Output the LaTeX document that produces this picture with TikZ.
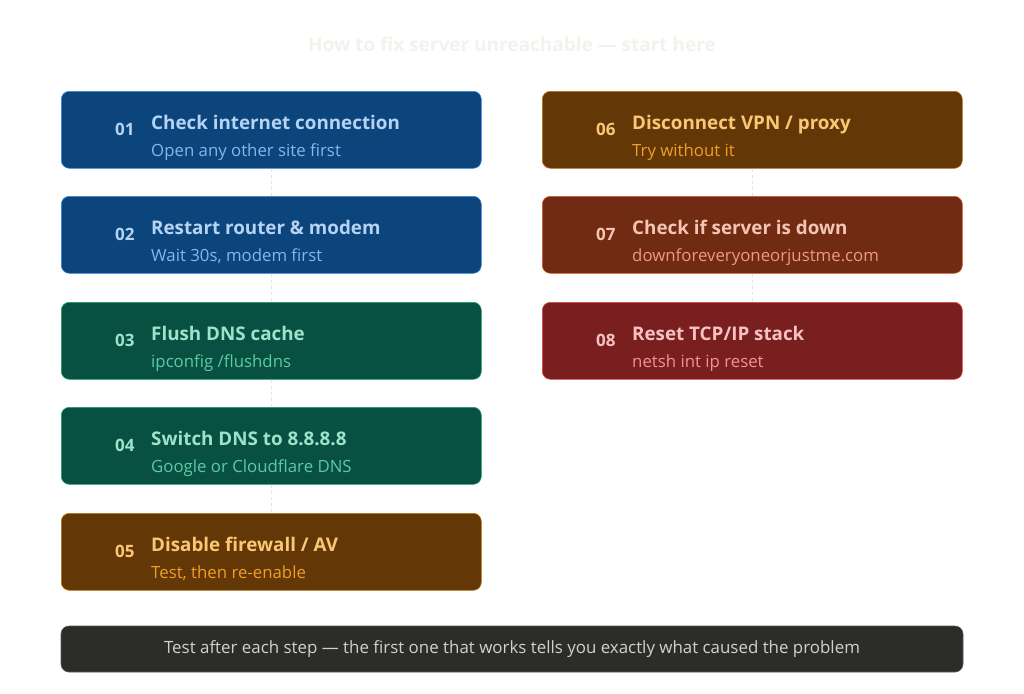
\documentclass[tikz,border=0pt]{standalone}
\usepackage{fontspec}
\setmainfont{Open Sans}

% palettes
\definecolor{bluefill}{HTML}{0C447C}
\definecolor{blueline}{HTML}{378ADD}
\definecolor{bluetext}{HTML}{B5D4F4}
\definecolor{bluesub}{HTML}{85B7EB}
\definecolor{greenfill}{HTML}{085041}
\definecolor{greenline}{HTML}{1D9E75}
\definecolor{greentext}{HTML}{9FE1CB}
\definecolor{greensub}{HTML}{5DCAA5}
\definecolor{amberfill}{HTML}{633806}
\definecolor{amberline}{HTML}{BA7517}
\definecolor{ambertext}{HTML}{FAC775}
\definecolor{ambersub}{HTML}{EF9F27}
\definecolor{rustfill}{HTML}{712B13}
\definecolor{rustline}{HTML}{D85A30}
\definecolor{rusttext}{HTML}{F5C4B3}
\definecolor{rustsub}{HTML}{F0997B}
\definecolor{redfill}{HTML}{791F1F}
\definecolor{redline}{HTML}{E24B4A}
\definecolor{redtext}{HTML}{F7C1C1}
\definecolor{redsub}{HTML}{F09595}
\definecolor{notefill}{HTML}{2C2C2A}
\definecolor{notetext}{HTML}{D3D1C7}
\definecolor{titlegray}{HTML}{F3F2EC}
\definecolor{linkgray}{HTML}{E6E5E0}

\tikzset{
  card/.style={draw=#1line, fill=#1fill, rounded corners=8pt, line width=0.6pt,
    minimum width=420pt, minimum height=77pt, anchor=north west, inner sep=0pt},
  cardnum/.style={text=#1text, font=\bfseries\fontsize{17}{20}\selectfont,
    anchor=base west, inner sep=0pt},
  cardhead/.style={text=#1text, font=\bfseries\fontsize{18.8}{22}\selectfont,
    anchor=base west, inner sep=0pt},
  cardsub/.style={text=#1sub, font=\fontsize{16.8}{20}\selectfont,
    anchor=base west, inner sep=0pt},
  link/.style={draw=linkgray, dashed, line width=0.8pt},
}

\begin{document}
\begin{tikzpicture}[x=1pt,y=-1pt]
  \fill[white] (0,0) rectangle (1024,693);
  \useasboundingbox (0,0) rectangle (1024,693);

  \node[text=titlegray, font=\bfseries\fontsize{19}{23}\selectfont] (title) at (512,44)
    {How to fix server unreachable --- start here};

  % steps: name/x/y/palette/heading/hint
  \foreach \i/\x/\y/\c/\t/\s in {
      1/61/91/blue/{Check internet connection}/{Open any other site first},
      2/61/196/blue/{Restart router \& modem}/{Wait 30s, modem first},
      3/61/302/green/{Flush DNS cache}/{ipconfig /flushdns},
      4/61/407/green/{Switch DNS to 8.8.8.8}/{Google or Cloudflare DNS},
      5/61/513/amber/{Disable firewall / AV}/{Test, then re-enable},
      6/542/91/amber/{Disconnect VPN / proxy}/{Try without it},
      7/542/196/rust/{Check if server is down}/{downforeveryoneorjustme.com},
      8/542/302/red/{Reset TCP/IP stack}/{netsh int ip reset}} {
    \node[card=\c] (s\i) at (\x,\y) {};
    \node[cardnum=\c] (n\i) at (\x+54,\y+44) {0\i};
    \node[cardhead=\c] (h\i) at (\x+90,\y+38) {\t};
    \node[cardsub=\c] (d\i) at (\x+90,\y+65) {\s};
  }

  % faint links down each column
  \draw[link] (s1) -- (s2);
  \draw[link] (s2) -- (s3);
  \draw[link] (s3) -- (s4);
  \draw[link] (s4) -- (s5);
  \draw[link] (s6) -- (s7);
  \draw[link] (s7) -- (s8);

  \node[fill=notefill, draw=notefill!80!white, rounded corners=8pt, line width=0.6pt,
    minimum width=902pt, minimum height=46pt, text=notetext,
    font=\fontsize{16.9}{20}\selectfont] (note) at (512,649)
    {Test after each step --- the first one that works tells you exactly what caused the problem};
\end{tikzpicture}
\end{document}
